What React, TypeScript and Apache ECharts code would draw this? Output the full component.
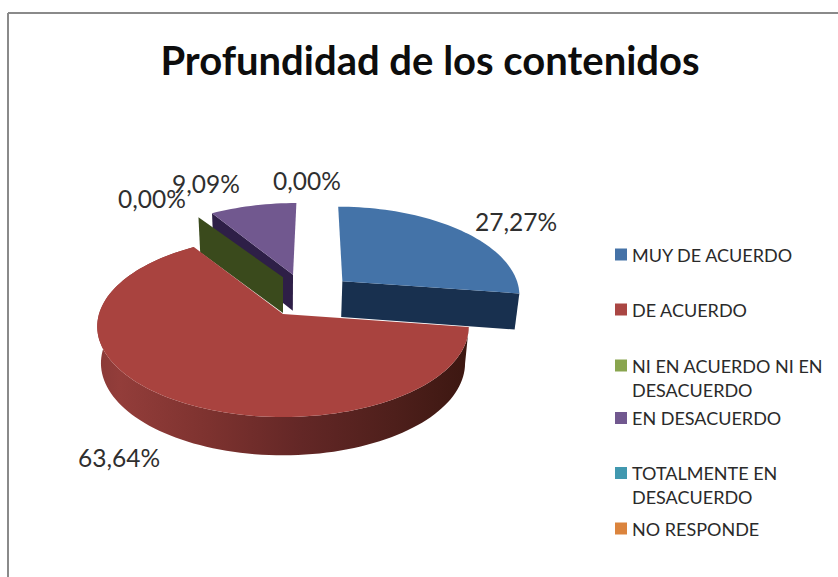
import React, { useEffect, useRef } from "react";
import * as echarts from "echarts";

const categories = [
  "MUY DE ACUERDO",
  "DE ACUERDO",
  "NI EN ACUERDO NI EN\nDESACUERDO",
  "EN DESACUERDO",
  "TOTALMENTE EN\nDESACUERDO",
  "NO RESPONDE",
];
const percentages = [27.27, 63.64, 0, 9.09, 0, 0];
const legendColors = ["#4572a7", "#aa4643", "#89a54e", "#71588f", "#4198af", "#db843d"];
const topColors = ["#4473a8", "#a9433f", "#89a54e", "#71588f", "#4198af", "#db843d"];
const wallColors = ["#18304f", "#6a2a28", "#3a4a1c", "#2e1f47", "#1e4a58", "#6e3f18"];
const title = "Profundidad de los contenidos";

// Projection of the tilted pie
const CX = 283, CY = 314, RX = 184, RY = 88.8, K = 0.138, DEPTH = 36.5, NARROW = 0.98;
// Explosion of every slice on the pie's ground plane, relative to the red slice
const explode = [[0.34, -0.39], [0, 0], [0, -0.44], [0.058, -0.47], [0.1, -0.5], [0.1, -0.5]];
const vScale = [1.06, 1, 1, 1.04, 1, 1];
const tilt = [0.02, 0, 0, 0.03, 0, 0];
const drawOrder = [4, 5, 3, 2, 0, 1];
const labelPos = [[516, 221], [119, 457], [152, 198], [206, 183], [307, 180]];
const legendCentres = [254.5, 309.5, 365.5, 418, 473, 528.5];
const LINE_HEIGHT = 24;

const sum = percentages.reduce((a, b) => a + b, 0);
const startAngles: number[] = [];
percentages.reduce((acc, v, i) => {
  startAngles[i] = acc;
  return acc + (v / sum) * 360;
}, 0);

function project(i: number, deg: number, a: number, low: boolean) {
  const t = (deg * Math.PI) / 180;
  const pu = explode[i][0] + a * (Math.sin(t) + tilt[i] * Math.cos(t));
  const pv = explode[i][1] - a * vScale[i] * Math.cos(t);
  const s = 1 / (1 - K * pv);
  const x = RX * pu * s;
  const y = RY * pv * s;
  const depth = DEPTH * (1 + 0.3 * (s - 1));
  return low ? [CX + x * NARROW, CY + y + depth] : [CX + x, CY + y];
}

const fmt = (v: number) => v.toFixed(2).replace(".", ",") + "%";

function makeRender(i: number) {
  return (_params: any, api: any) => {
    const value = api.value(0);
    const from = startAngles[i];
    const to = from + (value / sum) * 360;
    const children: any[] = [];
    const samples = Math.max(2, Math.ceil((to - from) / 2));
    const arc = (low: boolean) => {
      const pts: number[][] = [];
      for (let n = 0; n <= samples; n++) pts.push(project(i, from + ((to - from) * n) / samples, 1, low));
      return pts;
    };
    const radialWall = (deg: number) => [
      project(i, deg, 0, false),
      project(i, deg, 1, false),
      project(i, deg, 1, true),
      project(i, deg, 0, true),
    ];
    const wallFill =
      i === 1
        ? new echarts.graphic.LinearGradient(0, 0, 1, 0, [
            { offset: 0, color: "#8a3a38" },
            { offset: 0.06, color: "#933d3a" },
            { offset: 0.3, color: "#7d322f" },
            { offset: 0.55, color: "#632726" },
            { offset: 0.8, color: "#4e1f1b" },
            { offset: 1, color: "#3c1711" },
          ])
        : wallColors[i];
    if (value === 0) {
      // Empty slices only show their cut face, and none at the pie's seam
      if (from < 359.9) {
        children.push({ type: "polygon", shape: { points: radialWall(from) }, style: { fill: wallColors[i] } });
      }
    } else {
      if (i !== 1) {
        children.push({ type: "polygon", shape: { points: radialWall(i === 0 ? to : from) }, style: { fill: wallFill } });
      } else {
        children.push({ type: "polygon", shape: { points: [...arc(false), ...arc(true).reverse()] }, style: { fill: wallFill } });
      }
      children.push({
        type: "polygon",
        shape: { points: [project(i, from, 0, false), ...arc(false)] },
        style: { fill: topColors[i] },
      });
    }
    return { type: "group", children };
  };
}

export default function App() {
  const ref = useRef<HTMLDivElement>(null);
  useEffect(() => {
    const chart = echarts.init(ref.current!, undefined, { renderer: "svg" });
    const labelFont = '24.5px Lato, "Open Sans", sans-serif';
    const labelIdx = [0, 1, 2, 3, 4];
    chart.setOption({
      animation: false,
      backgroundColor: "#ffffff",
      color: legendColors,
      title: {
        text: title,
        left: 425,
        top: 35,
        textAlign: "center",
        textStyle: { fontFamily: "Lato, sans-serif", fontWeight: "bold", fontSize: 40, color: "#0d0d0d" },
      },
      legend: categories.map((name, i) => {
        const twoLine = name.includes("\n");
        return {
          data: [name],
          left: 615,
          top: legendCentres[i] - (twoLine ? 1.5 : 0.5) * LINE_HEIGHT,
          padding: 0,
          itemWidth: 12,
          itemHeight: 12,
          icon: "rect",
          selectedMode: false,
          // A blank first line centres the marker on the label's first line
          formatter: (n: string) => (twoLine ? "\n" + n : n),
          textStyle: {
            fontFamily: "Lato, sans-serif",
            fontSize: 18,
            lineHeight: LINE_HEIGHT,
            color: "#2a2a2a",
          },
        };
      }),
      graphic: [
        { type: "line", shape: { x1: 8, y1: 13, x2: 838, y2: 13 }, style: { stroke: "#8a8a8a", lineWidth: 2 } },
        { type: "line", shape: { x1: 8, y1: 13, x2: 8, y2: 577 }, style: { stroke: "#8a8a8a", lineWidth: 2 } },
        ...labelIdx.map((k) => ({
          type: "text",
          x: labelPos[k][0],
          y: labelPos[k][1],
          z: 50,
          style: { text: fmt(percentages[k]), font: labelFont, fill: "#2f2f2f", align: "center", verticalAlign: "middle" },
        })),
      ],
      series: categories.map((name, i) => ({
        type: "custom",
        name,
        coordinateSystem: "none",
        z: 2 + drawOrder.indexOf(i),
        silent: true,
        data: [[percentages[i]]],
        renderItem: makeRender(i),
      })),
    });
    return () => chart.dispose();
  }, []);
  return <div ref={ref} style={{ position: "absolute", left: 0, top: 0, width: 838, height: 577 }} />;
}
